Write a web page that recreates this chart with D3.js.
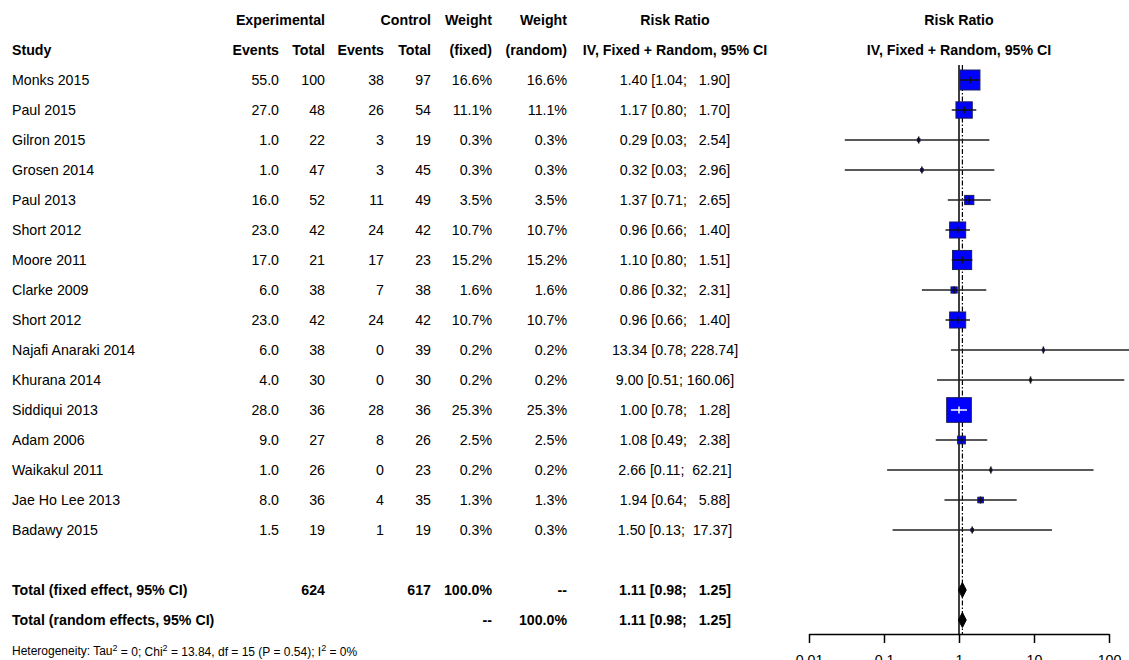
<!DOCTYPE html>
<html>
<head>
<meta charset="utf-8">
<script src="https://cdn.jsdelivr.net/npm/d3@7"></script>
<style>
  body { margin: 0; background: white; }
  svg text { font-family: "Liberation Sans", Arial, Helvetica, sans-serif; fill: #000; white-space: pre; }
</style>
</head>
<body>
<script>
const studies = ["Monks 2015", "Paul 2015", "Gilron 2015", "Grosen 2014", "Paul 2013", "Short 2012",
  "Moore 2011", "Clarke 2009", "Short 2012", "Najafi Anaraki 2014", "Khurana 2014", "Siddiqui 2013",
  "Adam 2006", "Waikakul 2011", "Jae Ho Lee 2013", "Badawy 2015"];
const expEvents = [55.0, 27.0, 1.0, 1.0, 16.0, 23.0, 17.0, 6.0, 23.0, 6.0, 4.0, 28.0, 9.0, 1.0, 8.0, 1.5];
const expTotal = [100, 48, 22, 47, 52, 42, 21, 38, 42, 38, 30, 36, 27, 26, 36, 19];
const ctlEvents = [38, 26, 3, 3, 11, 24, 17, 7, 24, 0, 0, 28, 8, 0, 4, 1];
const ctlTotal = [97, 54, 19, 45, 49, 42, 23, 38, 42, 39, 30, 36, 26, 23, 35, 19];
const weight = [16.6, 11.1, 0.3, 0.3, 3.5, 10.7, 15.2, 1.6, 10.7, 0.2, 0.2, 25.3, 2.5, 0.2, 1.3, 0.3];
const rr = [1.40, 1.17, 0.29, 0.32, 1.37, 0.96, 1.10, 0.86, 0.96, 13.34, 9.00, 1.00, 1.08, 2.66, 1.94, 1.50];
const lower = [1.04, 0.80, 0.03, 0.03, 0.71, 0.66, 0.80, 0.32, 0.66, 0.78, 0.51, 0.78, 0.49, 0.11, 0.64, 0.13];
const upper = [1.90, 1.70, 2.54, 2.96, 2.65, 1.40, 1.51, 2.31, 1.40, 228.74, 160.06, 1.28, 2.38, 62.21, 5.88, 17.37];

const pooled = { rr: 1.11, lower: 0.98, upper: 1.25 };
const totals = { expTotal: 624, ctlTotal: 617 };
const axisTicks = [0.01, 0.1, 1, 10, 100];

const width = 1129, height = 660;
const rowY0 = 80, rowStep = 30;
const fs = 14.2;

// column right edges
const col = { study: 12, expE: 279, expT: 325, ctlE: 384, ctlT: 431, wF: 492, wR: 567, ci: 675, plot: 959 };

const svg = d3.select("body").append("svg")
  .attr("width", width).attr("height", height);

svg.append("rect").attr("width", width).attr("height", height).attr("fill", "white");

const x = d3.scaleLog().domain([0.01, 100]).range([809, 1109]);
const y = i => rowY0 + i * rowStep;
const yFixed = 590, yRandom = 620;

function txt(xp, yp, s, anchor, bold, size) {
  return svg.append("text")
    .attr("x", xp).attr("y", yp).attr("dy", "0.35em")
    .attr("text-anchor", anchor || "start")
    .attr("font-size", size || fs)
    .attr("font-weight", bold ? "bold" : "normal")
    .text(s);
}

function pad(v, w) {
  const s = v.toFixed(2);
  return " ".repeat(Math.max(0, w - s.length)) + s;
}
function ciText(e, l, u) {
  return e.toFixed(2) + " [" + l.toFixed(2) + "; " + pad(u, 6) + "]";
}

// headers
txt(col.expT, 20, "Experimental", "end", true);
txt(col.ctlT, 20, "Control", "end", true);
txt(col.wF, 20, "Weight", "end", true);
txt(col.wR, 20, "Weight", "end", true);
txt(col.ci, 20, "Risk Ratio", "middle", true);
txt(col.plot, 20, "Risk Ratio", "middle", true);

txt(col.study, 50, "Study", "start", true);
txt(col.expE, 50, "Events", "end", true);
txt(col.expT, 50, "Total", "end", true);
txt(col.ctlE, 50, "Events", "end", true);
txt(col.ctlT, 50, "Total", "end", true);
txt(col.wF, 50, "(fixed)", "end", true);
txt(col.wR, 50, "(random)", "end", true);
txt(col.ci, 50, "IV, Fixed + Random, 95% CI", "middle", true);
txt(col.plot, 50, "IV, Fixed + Random, 95% CI", "middle", true);

// study rows
studies.forEach((s, i) => {
  const yy = y(i);
  txt(col.study, yy, s);
  txt(col.expE, yy, expEvents[i].toFixed(1), "end");
  txt(col.expT, yy, expTotal[i], "end");
  txt(col.ctlE, yy, ctlEvents[i], "end");
  txt(col.ctlT, yy, ctlTotal[i], "end");
  txt(col.wF, yy, weight[i].toFixed(1) + "%", "end");
  txt(col.wR, yy, weight[i].toFixed(1) + "%", "end");
  txt(col.ci, yy, ciText(rr[i], lower[i], upper[i]), "middle");
});

// totals
txt(col.study, yFixed, "Total (fixed effect, 95% CI)", "start", true);
txt(col.expT, yFixed, totals.expTotal, "end", true);
txt(col.ctlT, yFixed, totals.ctlTotal, "end", true);
txt(col.wF, yFixed, "100.0%", "end", true);
txt(col.wR, yFixed, "--", "end", true);
txt(col.ci, yFixed, ciText(pooled.rr, pooled.lower, pooled.upper), "middle", true);

txt(col.study, yRandom, "Total (random effects, 95% CI)", "start", true);
txt(col.wF, yRandom, "--", "end", true);
txt(col.wR, yRandom, "100.0%", "end", true);
txt(col.ci, yRandom, ciText(pooled.rr, pooled.lower, pooled.upper), "middle", true);

// heterogeneity
const het = svg.append("text").attr("x", col.study).attr("y", 651).attr("dy", "0.35em")
  .attr("font-size", 12);
het.append("tspan").text("Heterogeneity: Tau");
het.append("tspan").attr("font-size", 9).attr("dy", "-0.5em").text("2");
het.append("tspan").attr("dy", "0.4em").text(" = 0; Chi");
het.append("tspan").attr("font-size", 9).attr("dy", "-0.5em").text("2");
het.append("tspan").attr("dy", "0.4em").text(" = 13.84, df = 15 (P = 0.54); I");
het.append("tspan").attr("font-size", 9).attr("dy", "-0.5em").text("2");
het.append("tspan").attr("dy", "0.4em").text(" = 0%");

// forest plot
const plot = svg.append("g");
const axisY = 634;

// reference lines
plot.append("line")
  .attr("x1", x(1)).attr("x2", x(1)).attr("y1", 65).attr("y2", axisY)
  .attr("stroke", "#000").attr("stroke-width", 1.5);
plot.append("line")
  .attr("x1", x(pooled.rr)).attr("x2", x(pooled.rr)).attr("y1", 65).attr("y2", axisY)
  .attr("stroke", "#000").attr("stroke-width", 1.2).attr("stroke-dasharray", "5,2,1.5,2");

studies.forEach((s, i) => {
  const yy = y(i);
  const size = 4.9 * Math.sqrt(weight[i]);
  const cx = x(rr[i]);
  const x1 = x(lower[i]), x2 = x(upper[i]);
  const inside = (x2 - x1) < size - 4;
  if (!inside) {
    plot.append("line").attr("x1", x1).attr("x2", x2).attr("y1", yy).attr("y2", yy)
      .attr("stroke", "#222").attr("stroke-width", 1.5);
  }
  plot.append("rect")
    .attr("x", cx - size / 2).attr("y", yy - size / 2)
    .attr("width", size).attr("height", size)
    .attr("fill", "#0000ff").attr("stroke", "#1a1a5e").attr("stroke-width", 1);
  const c = inside ? "#fff" : "#111";
  if (inside) {
    plot.append("line").attr("x1", x1).attr("x2", x2).attr("y1", yy).attr("y2", yy)
      .attr("stroke", c).attr("stroke-width", 1.5);
  } else {
    plot.append("line").attr("x1", Math.max(x1, cx - size / 2)).attr("x2", Math.min(x2, cx + size / 2))
      .attr("y1", yy).attr("y2", yy).attr("stroke", c).attr("stroke-width", 1.5);
  }
  plot.append("line").attr("x1", cx).attr("x2", cx).attr("y1", yy - 3.5).attr("y2", yy + 3.5)
    .attr("stroke", c).attr("stroke-width", 1.5);
});

// pooled diamonds
[yFixed, yRandom].forEach(yy => {
  const pts = [[x(pooled.lower), yy], [x(pooled.rr), yy - 7.5], [x(pooled.upper), yy], [x(pooled.rr), yy + 7.5]];
  plot.append("path").attr("d", "M" + pts.join("L") + "Z").attr("fill", "#000").attr("stroke", "#000");
});

// axis
const axis = d3.axisBottom(x).tickValues(axisTicks)
  .tickFormat(d => String(d)).tickSize(9).tickSizeOuter(0).tickPadding(12);
const ax = plot.append("g").attr("transform", "translate(0," + axisY + ")").call(axis);
ax.select(".domain").attr("stroke", "#000").attr("stroke-width", 1.5);
ax.selectAll(".tick line").attr("stroke", "#000").attr("stroke-width", 1.5);
ax.selectAll(".tick text").attr("font-size", fs).attr("font-family", "Liberation Sans, Arial, sans-serif").attr("fill", "#000");
</script>
</body>
</html>
